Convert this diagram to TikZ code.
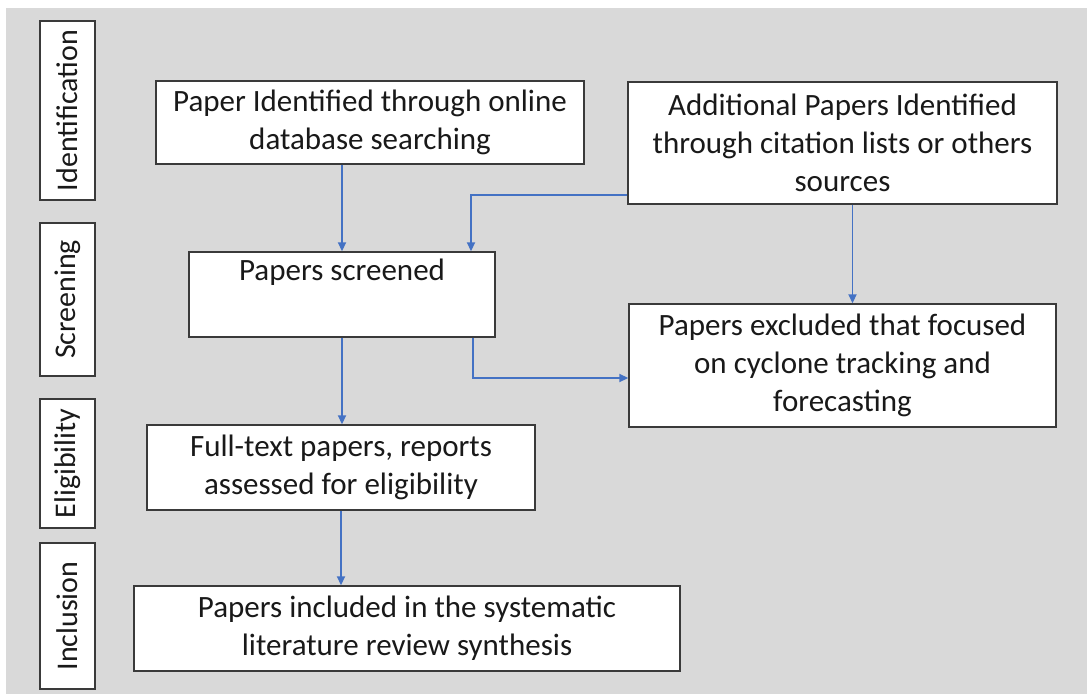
\documentclass[tikz,border=0pt]{standalone}
\usepackage{fontspec}
\setmainfont{Carlito}
\usetikzlibrary{arrows.meta}
\definecolor{bg}{HTML}{D9D9D9}
\definecolor{arrblue}{HTML}{4472C4}
\definecolor{edge}{HTML}{3A3A3A}
\tikzset{
  box/.style={draw=edge, line width=1.4pt, fill=white, inner sep=0pt, align=center,
    font=\fontsize{31}{38}\selectfont, text=black!90},
  stage/.style={draw=edge, line width=1.4pt, fill=white, inner sep=0pt, rotate=90,
    minimum height=55pt, font=\fontsize{30}{36}\selectfont, text=black!90},
  arr/.style={draw=arrblue, line width=1.8pt, -{Triangle[length=9pt,width=8pt]}}
}
\begin{document}
\begin{tikzpicture}[x=1pt,y=-1pt]
\useasboundingbox (0,0) rectangle (1087,694);
\fill[white] (0,0) rectangle (1087,694);
\fill[bg] (6,8) rectangle (1087,694);
% stage labels
\node[stage, minimum width=179pt] (sid) at (67.5,110.5) {Identification};
\node[stage, minimum width=153pt] (sscr) at (67.5,299.5) {Screening};
\node[stage, minimum width=129pt] (seli) at (67.5,463.5) {Eligibility};
\node[stage, minimum width=146pt] (sinc) at (67.5,616) {Inclusion};
% boxes
\node[box, minimum width=428pt, minimum height=83pt] (b1) at (370,122.5)
  {Paper Identified through online\\database searching};
\node[box, minimum width=429pt, minimum height=122pt] (b2) at (842.5,143)
  {Additional Papers Identified\\through citation lists or others\\sources};
\node[box, minimum width=306pt, minimum height=85pt] (b3) at (342,294.5)
  {Papers screened\\\strut};
\node[box, minimum width=427pt, minimum height=123pt] (b4) at (842.5,365.5)
  {Papers excluded that focused\\on cyclone tracking and\\forecasting};
\node[box, minimum width=388pt, minimum height=85pt] (b5) at (341,467.5)
  {Full-text papers, reports\\assessed for eligibility};
\node[box, minimum width=546pt, minimum height=85pt] (b6) at (407,628.5)
  {Papers included in the systematic\\literature review synthesis};
% connectors
\draw[arr] (b3.north |- b1.south) -- (b3.north);
\draw[arr] ([yshift=10pt]b2.south west) -| ([xshift=129pt]b3.north);
\draw[arr] ([xshift=131pt]b3.south) |- ([yshift=-12.5pt]b4.west);
\draw[arr] (b3.south) -- (b3.south |- b5.north);
\draw[arr] ([xshift=10pt]b2.south) -- ([xshift=10pt]b4.north);
\draw[arr] (b5.south) -- (b5.south |- b6.north);
\end{tikzpicture}
\end{document}
